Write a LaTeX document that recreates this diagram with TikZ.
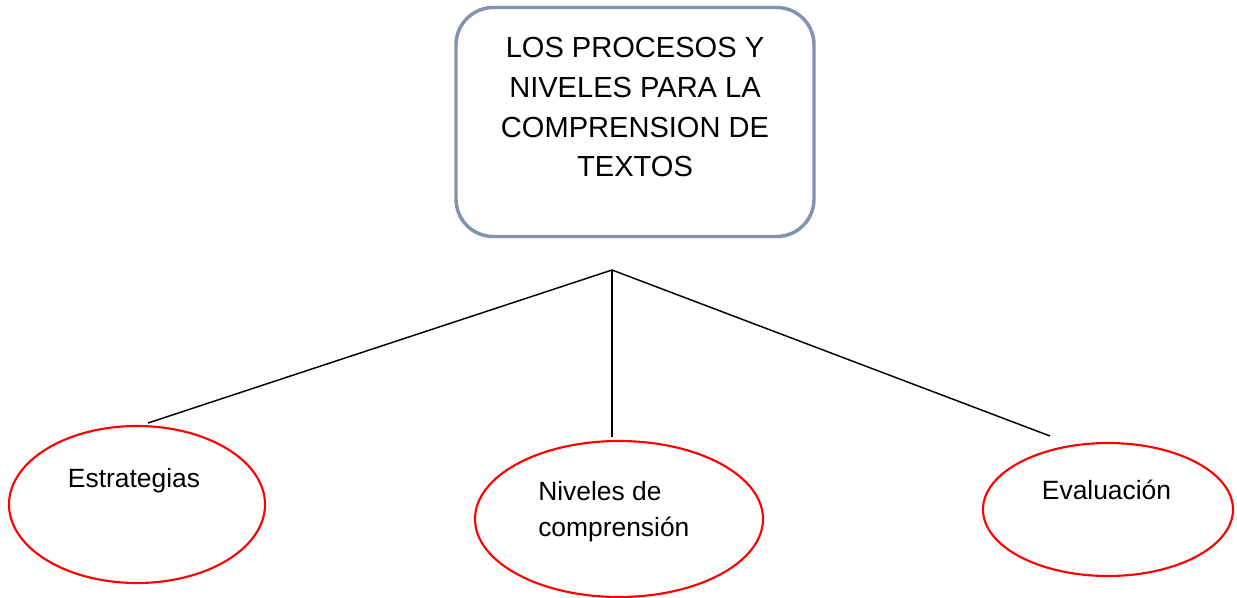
\documentclass[tikz,border=0pt]{standalone}
\usepackage{fontspec}
\setmainfont{Liberation Sans}
\usetikzlibrary{shapes.geometric}
\definecolor{boxblue}{RGB}{128,147,176}
\definecolor{ellred}{RGB}{255,0,0}
\tikzset{
  titlebox/.style={draw=boxblue, line width=2.6pt, rounded corners=28pt, fill=white, inner sep=0pt},
  oval/.style={ellipse, draw=ellred, line width=1.6pt, inner sep=0pt},
  conn/.style={draw=black, line width=1.1pt},
  titletxt/.style={anchor=base, inner sep=0pt, font=\fontsize{21.8pt}{26pt}\selectfont},
  ovaltxt/.style={anchor=base, inner sep=0pt, font=\fontsize{19.8pt}{24pt}\selectfont}
}
\begin{document}
\begin{tikzpicture}[x=0.75pt, y=-0.75pt]
\useasboundingbox (0,0) rectangle (1237,598);
% title box
\node[titlebox, minimum width=358*0.75pt, minimum height=229*0.75pt] (box) at (635,122) {};
\node[titletxt] (t1) at (635,58) {LOS PROCESOS Y};
\node[titletxt] (t2) at (635,98) {NIVELES PARA LA};
\node[titletxt] (t3) at (635,138) {COMPRENSION DE};
\node[titletxt] (t4) at (635,177) {TEXTOS};
% ellipses
\node[oval, minimum width=256*0.75pt, minimum height=157*0.75pt] (e1) at (137,504.5) {};
\node[oval, minimum width=288*0.75pt, minimum height=156*0.75pt] (e2) at (619,519) {};
\node[oval, minimum width=250*0.75pt, minimum height=133*0.75pt] (e3) at (1108,509.5) {};
\node[ovaltxt] (l1) at (134,487) {Estrategias};
\node[ovaltxt, anchor=base west] (l2a) at (538,500) {Niveles de};
\node[ovaltxt, anchor=base west] (l2b) at (538,536) {comprensión};
\node[ovaltxt] (l3) at (1106.5,499) {Evaluación};
% connectors
\coordinate (J) at (612,270);
\coordinate (c1) at (148,423);
\coordinate (c2) at (612,437);
\coordinate (c3) at (1050,436);
\draw[conn] (c1) -- (J) -- (c3);
\draw[conn] (J) -- (c2);
\end{tikzpicture}
\end{document}
